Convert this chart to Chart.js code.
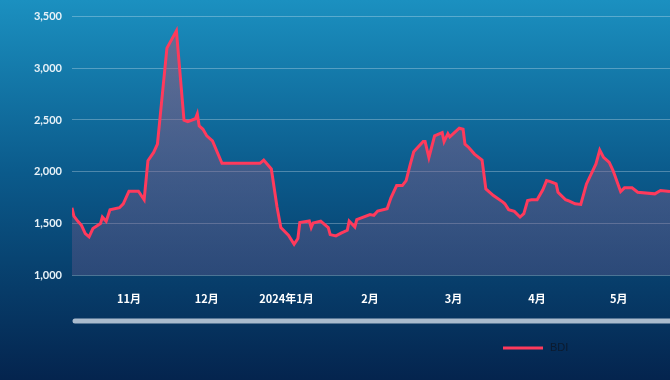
<!DOCTYPE html>
<html>
<head>
<meta charset="utf-8">
<script src="https://cdn.jsdelivr.net/npm/chart.js@4"></script>
<style>
  html, body { margin: 0; padding: 0; background: #0b3a66; }
  #wrap { width: 670px; height: 380px; }
</style>
</head>
<body>
<div id="wrap"><canvas id="myChart" width="670" height="380"></canvas></div>
<script>
// 位置(取引日ベースの目安)とBDIの値
const dayIdx = [0, 0.5, 1.5, 2.5, 3.5, 4.5, 5.5, 7.5, 8, 9, 10, 12.5, 13.5, 15, 17.5, 19, 20, 21.5, 22.5, 25,
  27.5, 29.5, 30.5, 32.5, 33, 33.5, 34.5, 35.5, 37, 39.5, 49.5, 50.5, 52.5, 54, 55, 57, 58.5, 59.5, 60, 62.5,
  63, 63.5, 65.5, 67.5, 68, 69.5, 71, 72.5, 73, 74.5, 75, 78.5, 79.5, 80.5, 83, 84, 85.5, 87, 88, 89,
  90, 92.5, 93, 94, 95.5, 97.5, 98, 99, 99.5, 102, 103, 103.5, 104.5, 106, 108, 109, 111, 113.5, 114, 115,
  116.5, 118, 119, 120, 121, 122.5, 124, 125, 126, 127.5, 128, 130, 131, 132.5, 134, 135.5, 138, 139, 140, 141.5,
  142.5, 144.5, 145.5, 147.5, 149, 153.5, 155, 157.5];
const bdi = [1650, 1570, 1522, 1481, 1401, 1369, 1449, 1497, 1561, 1519, 1632, 1651, 1689, 1811, 1811, 1728, 2106, 2186, 2266, 3195,
  3362, 2497, 2484, 2512, 2560, 2442, 2410, 2346, 2298, 2080, 2080, 2112, 2026, 1657, 1459, 1385, 1298, 1353, 1507, 1522,
  1459, 1503, 1522, 1459, 1391, 1378, 1407, 1433, 1522, 1465, 1535, 1584, 1577, 1618, 1641, 1747, 1865, 1865, 1913, 2058,
  2192, 2291, 2291, 2137, 2346, 2378, 2291, 2368, 2336, 2420, 2410, 2266, 2234, 2170, 2112, 1833, 1769, 1705, 1689, 1632,
  1615, 1561, 1593, 1721, 1728, 1728, 1824, 1913, 1904, 1881, 1801, 1728, 1714, 1689, 1683, 1881, 2074, 2208, 2138, 2090,
  2010, 1808, 1843, 1843, 1801, 1785, 1817, 1808];

// 月ラベル
const monthPos = [15, 35.5, 56.5, 78.5, 100.5, 122.5, 144];
const monthLabels = ['11月', '12月', '2024年1月', '2月', '3月', '4月', '5月'];

const yTicks = [1000, 1500, 2000, 2500, 3000, 3500];

const points = dayIdx.map((d, i) => ({ x: d, y: bdi[i] }));

// 背景・スライダー・凡例
const bgPlugin = {
  id: 'bg',
  beforeDraw(chart) {
    const c = chart.ctx;
    const g = c.createLinearGradient(0, 0, 0, chart.height);
    g.addColorStop(0, '#1b90c0');
    g.addColorStop(0.45, '#0b5b8c');
    g.addColorStop(1, '#04244e');
    c.save();
    c.fillStyle = g;
    c.fillRect(0, 0, chart.width, chart.height);
    c.restore();
  },
  afterDraw(chart) {
    const c = chart.ctx;
    const area = chart.chartArea;
    // スクロールバー
    c.save();
    c.strokeStyle = 'rgba(200,212,225,0.85)';
    c.lineWidth = 5;
    c.lineCap = 'round';
    c.beginPath();
    c.moveTo(area.left + 3, 321);
    c.lineTo(chart.width + 5, 321);
    c.stroke();
    // 凡例
    const ds = chart.data.datasets[0];
    c.strokeStyle = ds.borderColor;
    c.lineWidth = 3;
    c.lineCap = 'butt';
    c.beginPath();
    c.moveTo(503, 348);
    c.lineTo(543, 348);
    c.stroke();
    c.fillStyle = '#0c1a2e';
    c.font = '11px "Liberation Sans", Arial, sans-serif';
    c.textBaseline = 'middle';
    c.fillText(ds.label, 550, 348);
    c.restore();
  }
};

new Chart(document.getElementById('myChart'), {
  type: 'line',
  data: {
    datasets: [{
      label: 'BDI',
      data: points,
      borderColor: '#ff3a5c',
      borderWidth: 3,
      pointRadius: 0,
      tension: 0,
      fill: 'start',
      backgroundColor: function(context) {
        const area = context.chart.chartArea;
        if (!area) return 'rgba(120,90,130,0.5)';
        const g = context.chart.ctx.createLinearGradient(0, area.top, 0, area.bottom);
        g.addColorStop(0, 'rgba(170,90,120,0.55)');
        g.addColorStop(1, 'rgba(110,90,140,0.35)');
        return g;
      }
    }]
  },
  options: {
    responsive: false,
    animation: false,
    layout: { padding: { top: 15, right: 0, left: 0, bottom: 0 } },
    plugins: {
      legend: { display: false },
      tooltip: { enabled: false }
    },
    scales: {
      x: {
        type: 'linear',
        min: 0,
        max: 157.5,
        grid: { display: false },
        border: { display: false },
        afterBuildTicks(scale) {
          scale.ticks = monthPos.map(v => ({ value: v }));
        },
        afterFit(scale) { scale.height = 105; },
        ticks: {
          color: '#ffffff',
          padding: 9,
          maxRotation: 0,
          autoSkip: false,
          font: { family: '"Noto Sans CJK SC"', size: 11, weight: 'bold' },
          callback: function(value) {
            const i = monthPos.indexOf(value);
            return i >= 0 ? monthLabels[i] : '';
          }
        }
      },
      y: {
        min: 1000,
        max: 3500,
        afterBuildTicks(scale) {
          scale.ticks = yTicks.map(v => ({ value: v }));
        },
        afterFit(scale) { scale.width = 72; },
        grid: { color: 'rgba(255,255,255,0.28)', lineWidth: 1, drawTicks: false },
        border: { display: false },
        ticks: {
          color: '#e8f2f8',
          padding: 10,
          font: { family: 'Lato', size: 11, weight: 'bold' },
          callback: v => v.toLocaleString('en-US')
        }
      }
    }
  },
  plugins: [bgPlugin]
});
</script>
</body>
</html>
